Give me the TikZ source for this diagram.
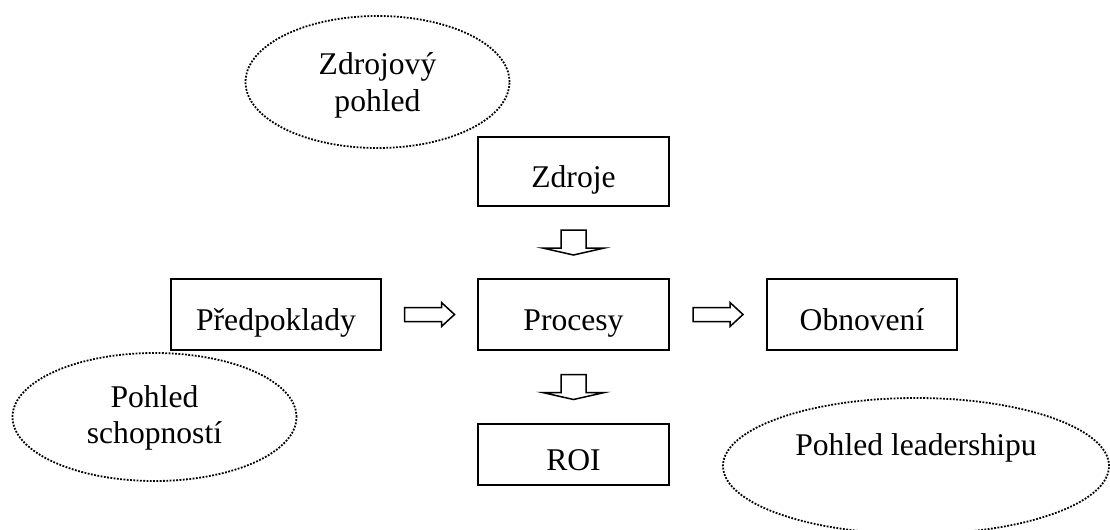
\documentclass[tikz,border=0pt]{standalone}
\usepackage{fontspec}
\setmainfont{Liberation Serif}
\usetikzlibrary{shapes.geometric,calc}
\begin{document}
\begin{tikzpicture}[x=0.5pt,y=-0.5pt,
        font=\fontsize{15.8}{18}\selectfont,
        box/.style={draw,line width=1pt,inner sep=0pt,minimum width=95.5pt,
            minimum height=35.5pt,text height=17pt,text depth=1.5pt},
        view/.style={ellipse,draw,line width=0.9pt,dash pattern=on 0.9pt off 0.75pt,
            inner sep=0pt,align=center,text height=11pt,text depth=22pt},
        twolines/.style={text height=#1,text depth=2pt},
        blockarrow/.style={draw,line width=0.75pt,line join=miter}]
                \useasboundingbox (0,0) rectangle (1110,530);
                %% boxes
                \node[box,minimum height=34.5pt] (zdroje) at (573.5,171.5) {Zdroje};
                \node[box,minimum width=105pt] (predpoklady) at (276,314.5) {Předpoklady};
                \node[box] (procesy) at (573.5,314.5) {Procesy};
                \node[box,minimum width=95pt] (obnoveni) at (862,314.5) {Obnovení};
                \node[box,minimum height=30.5pt] (roi) at (573.5,454.5) {ROI};
                %% views
                \node[view,twolines=31pt,minimum width=132pt,minimum height=66pt] (zdrojovy) at (377.5,82) {Zdrojový\\pohled};
                \node[view,twolines=28pt,minimum width=142pt,minimum height=64pt] (schopnosti) at (154.5,417) {Pohled\\schopností};
                \node[view,minimum width=193pt,minimum height=68pt] (leadership) at (916,466) {Pohled leadershipu};
                %% down arrows
                \draw[blockarrow] ($(zdroje.south)!.5!(procesy.north)+(-12.5,-12.5)$) -- ++(25,0) -- ++(0,18)
                    -- ++(18.5,0) -- ++(-31,7) -- ++(-31,-7) -- ++(18.5,0) -- cycle;
                \draw[blockarrow] ($(procesy.south)!.5!(roi.north)+(-12.5,-12.5)$) -- ++(25,0) -- ++(0,18)
                    -- ++(18.5,0) -- ++(-31,7) -- ++(-31,-7) -- ++(18.5,0) -- cycle;
                %% right arrows
                \draw[blockarrow] ($(predpoklady.east)!.5!(procesy.west)+(-25,-7)$) -- ++(37,0) -- ++(0,-5)
                    -- ++(13,12) -- ++(-13,12) -- ++(0,-5) -- ++(-37,0) -- cycle;
                \draw[blockarrow] ($(procesy.east)!.5!(obnoveni.west)+(-25,-7)$) -- ++(37,0) -- ++(0,-5)
                    -- ++(13,12) -- ++(-13,12) -- ++(0,-5) -- ++(-37,0) -- cycle;
            \end{tikzpicture}
\end{document}
